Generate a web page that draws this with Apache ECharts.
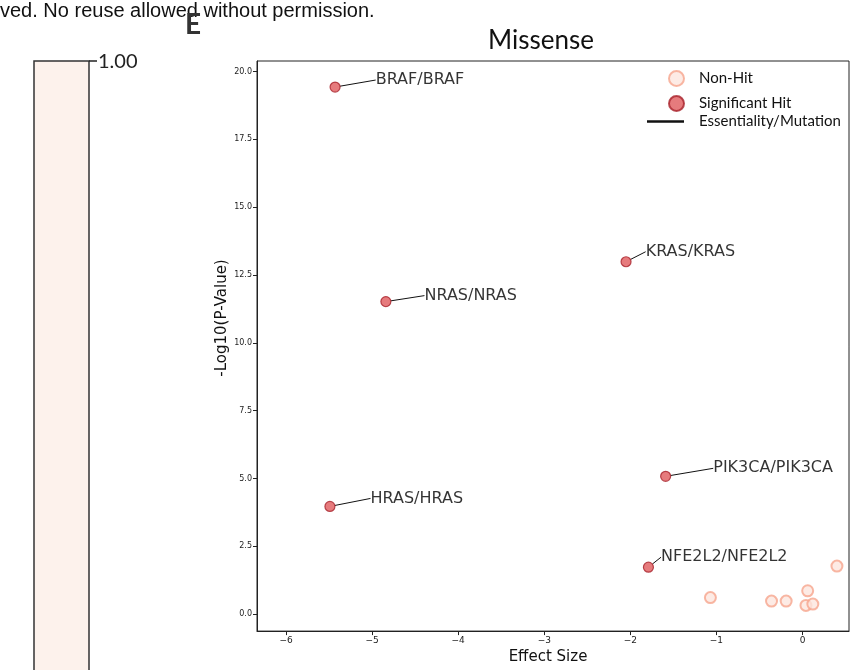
<!DOCTYPE html>
<html>
<head>
<meta charset="utf-8">
<script src="https://cdn.jsdelivr.net/npm/echarts@6/dist/echarts.min.js"></script>
<style>
  html, body { margin: 0; padding: 0; background: #fff; }
</style>
</head>
<body>
<div style="width: 868px; height: 670px" id="chart"></div>
<script>
// significant hits
const hitNames = ["BRAF/BRAF", "KRAS/KRAS", "NRAS/NRAS", "PIK3CA/PIK3CA", "HRAS/HRAS", "NFE2L2/NFE2L2"];
const hitEffect = [-5.43, -2.05, -4.84, -1.59, -5.49, -1.79];
const hitLogP = [19.43, 12.99, 11.52, 5.08, 3.97, 1.73];

// non hits
const nonHitEffect = [-1.07, -0.36, -0.19, 0.06, 0.04, 0.12, 0.40];
const nonHitLogP = [0.61, 0.48, 0.48, 0.86, 0.32, 0.37, 1.77];

const xTicks = [-6, -5, -4, -3, -2, -1, 0];
const yTicks = [0, 2.5, 5, 7.5, 10, 12.5, 15, 17.5, 20];

// label shift from the point (px)
const labelShift = [[35, -7], [14, -10], [33, -6], [42, -8], [35, -8], [7, -10]];

const tickFont = "DejaVu Sans";

let myChart = echarts.init(document.getElementById("chart"));

const options = {
  animation: false,
  title: {
    text: "Missense",
    left: 483,
    top: 23,
    textStyle: { fontFamily: "Lato", fontSize: 26, fontWeight: "normal", color: "#111" },
  },
  legend: [
    {
      left: 663,
      top: 65,
      orient: "vertical",
      itemWidth: 35,
      itemHeight: 15,
      itemGap: 8,
      data: ["Non-Hit", "Significant Hit"],
      textStyle: { fontFamily: "Lato", fontSize: 15, color: "#111" },
    },
    {
      left: 642,
      top: 109,
      itemWidth: 37,
      itemHeight: 2.5,
      data: [{ name: "Essentiality/Mutation", icon: "rect" }],
      textStyle: { fontFamily: "Lato", fontSize: 15, color: "#111", padding: [0, 0, 0, 10] },
    },
  ],
  grid: {
    left: 257,
    top: 61,
    right: 19,
    bottom: 38,
    show: true,
    borderColor: "#222",
    borderWidth: 1,
  },
  xAxis: {
    type: "value",
    min: -6.337,
    max: 0.54,
    name: "Effect Size",
    nameLocation: "middle",
    nameGap: 15,
    nameTextStyle: { fontFamily: tickFont, fontSize: 15, color: "#111", verticalAlign: "top", padding: [0, 10, 0, 0] },
    splitLine: { show: false },
    axisLine: { show: true, onZero: false, lineStyle: { color: "#222" } },
    axisTick: { show: true, length: 4, customValues: xTicks, lineStyle: { color: "#222" } },
    axisLabel: {
      customValues: xTicks,
      fontFamily: tickFont,
      fontSize: 9,
      color: "#222",
      margin: 5,
      formatter: (v) => (v < 0 ? "\u2212" + Math.abs(v) : String(v)),
    },
  },
  yAxis: {
    type: "value",
    min: -0.626,
    max: 20.39,
    splitLine: { show: false },
    axisLine: { show: true, onZero: false, lineStyle: { color: "#222" } },
    axisTick: { show: true, length: 4, customValues: yTicks, lineStyle: { color: "#222" } },
    axisLabel: {
      customValues: yTicks,
      fontFamily: tickFont,
      fontSize: 8,
      color: "#222",
      margin: 5,
      formatter: (v) => v.toFixed(1),
    },
  },
  graphic: [
    {
      type: "text",
      left: 0,
      top: 1,
      style: { text: "ved. No reuse allowed without permission.", font: "20px 'Liberation Sans'", fill: "#111" },
    },
    {
      type: "rect",
      shape: { x: 34, y: 61, width: 55, height: 640 },
      style: { fill: "#fdf2ec", stroke: "#333", lineWidth: 1.5 },
    },
    {
      type: "line",
      shape: { x1: 89, y1: 61, x2: 97, y2: 61 },
      style: { stroke: "#222", lineWidth: 1.5 },
    },
    {
      type: "text",
      left: 98,
      top: 52,
      style: { text: "1.00", font: "20px Lato", fill: "#222" },
    },
    {
      type: "text",
      left: 185,
      top: 11,
      style: { text: "E", font: "bold 28px Lato", fill: "#333" },
    },
    {
      type: "text",
      x: 222,
      y: 318,
      rotation: Math.PI / 2,
      style: {
        text: "-Log10(P-Value)",
        font: "15px 'DejaVu Sans'",
        fill: "#111",
        align: "center",
        verticalAlign: "middle",
      },
    },
  ],
  series: [
    {
      name: "Non-Hit",
      type: "scatter",
      symbolSize: 11,
      itemStyle: { color: "#fde6de", borderColor: "#f6a58d", borderWidth: 2 },
      data: nonHitEffect.map((x, i) => [x, nonHitLogP[i]]),
      z: 2,
    },
    {
      name: "Significant Hit",
      type: "scatter",
      symbolSize: 10,
      itemStyle: { color: "#e05a5c", borderColor: "#a8222a", borderWidth: 1.2 },
      data: hitEffect.map((x, i) => [x, hitLogP[i], hitNames[i]]),
      label: {
        show: true,
        position: "right",
        distance: 0,
        formatter: (p) => p.value[2],
        fontFamily: tickFont,
        fontSize: 16,
        color: "#000",
      },
      labelLayout: (p) => ({ dx: labelShift[p.dataIndex][0], dy: labelShift[p.dataIndex][1] }),
      labelLine: { show: true, lineStyle: { color: "#111", width: 1 } },
      z: 3,
    },
    {
      name: "Essentiality/Mutation",
      type: "line",
      symbol: "none",
      data: [],
      lineStyle: { color: "#111", width: 2 },
      itemStyle: { color: "#111" },
    },
  ],
};

myChart.setOption(options);
</script>
</body>
</html>
